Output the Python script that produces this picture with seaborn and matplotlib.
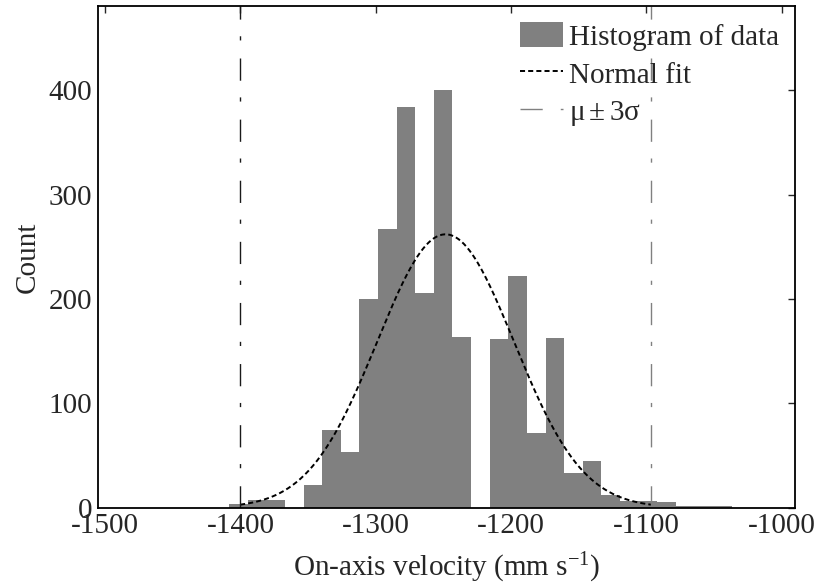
import numpy as np
import pandas as pd
import matplotlib
matplotlib.use("Agg")
import matplotlib.pyplot as plt
from matplotlib.patches import Patch
from matplotlib.lines import Line2D
import seaborn as sns

# ---- data ----
bin_start = -1408.3
bin_width = 13.75
counts = [4, 7, 7, 0, 22, 74, 53, 200, 267, 384, 206, 400, 164, 0,
          162, 222, 72, 163, 33, 45, 12, 6, 6, 5, 2, 2, 2]
fit_mu = -1248.4
fit_sigma = 50.6
fit_peak = 262.0
x_ticks = [-1500, -1400, -1300, -1200, -1100, -1000]
y_ticks = [0, 100, 200, 300, 400]
legend_labels = ["Histogram of data", "Normal fit", r"$\mathregular{\mu \pm 3\sigma}$"]

sns.set_style("white")
plt.rcParams["font.family"] = ["Liberation Serif", "DejaVu Serif"]
plt.rcParams["axes.unicode_minus"] = False
plt.rcParams["mathtext.fontset"] = "custom"
plt.rcParams["mathtext.rm"] = "Liberation Serif"
plt.rcParams["mathtext.it"] = "Liberation Serif:italic"

fig = plt.figure(figsize=(8.16, 5.86), dpi=100)
ax = fig.add_axes([0.1201, 0.1336, 0.8542, 0.8562])

edges = [float(e) for e in bin_start + bin_width * np.arange(len(counts) + 1)]
centers = [(edges[i] + edges[i + 1]) / 2 for i in range(len(counts))]
df = pd.DataFrame({"v": centers, "w": [float(c) for c in counts]})
sns.histplot(data=df, x="v", weights="w", bins=edges, color="#808080",
             alpha=1, linewidth=0, ax=ax)

xs = np.linspace(fit_mu - 3 * fit_sigma, fit_mu + 3 * fit_sigma, 300)
ys = fit_peak * np.exp(-0.5 * ((xs - fit_mu) / fit_sigma) ** 2)
sns.lineplot(x=xs, y=ys, color="black", linewidth=1.4,
             linestyle=(0, (2.6, 1.6)), sort=False, estimator=None, ax=ax)

dd = (0, (16, 13, 3, 12))
ax.axvline(fit_mu - 3 * fit_sigma, color="0.1", linewidth=1.0, linestyle=dd)
ax.axvline(fit_mu + 3 * fit_sigma, color="0.5", linewidth=1.0, linestyle=dd)

ax.set_xlim(-1505.2, -990.2)
ax.set_ylim(0, 480.8)
ax.set_xticks(x_ticks)
ax.set_yticks(y_ticks)
ax.set_xticklabels([str(t) for t in x_ticks])
ax.set_yticklabels([str(t) for t in y_ticks])
ax.tick_params(direction="in", length=5, width=1, top=True, right=True,
               labelsize=21, pad=4)
for s in ax.spines.values():
    s.set_linewidth(1.3)
    s.set_color("black")
ax.set_xlabel("On-axis velocity (mm s$^{\\mathregular{-1}}$)", fontsize=21, labelpad=8)
ax.set_ylabel("Count", fontsize=21, labelpad=6)

handles = [
    Patch(facecolor="#808080", edgecolor="none"),
    Line2D([], [], color="black", linewidth=1.4, linestyle=(0, (2.6, 1.6))),
    Line2D([], [], color="0.5", linewidth=1.0, linestyle=dd),
]
ax.legend(handles, legend_labels, loc="upper right", frameon=False,
          fontsize=21, handlelength=1.47, handleheight=0.95,
          handletextpad=0.2, labelspacing=0.32, borderaxespad=0.15,
          bbox_to_anchor=(1.0, 1.0))

fig.savefig("out.png", dpi=100)
